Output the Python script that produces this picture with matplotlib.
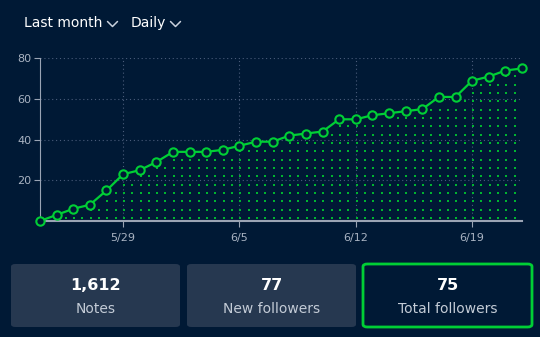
import numpy as np
import matplotlib.pyplot as plt
from matplotlib.patches import FancyBboxPatch
from matplotlib.lines import Line2D

# followers per day, 5/24 .. 6/22
followers = [0, 3, 6, 8, 15, 23, 25, 29, 34, 34,
             34, 35, 37, 39, 39, 42, 43, 44, 50, 50,
             52, 53, 54, 55, 61, 61, 69, 71, 74, 75]
tick_days = [5, 12, 19, 26]
tick_labels = ['5/29', '6/5', '6/12', '6/19']
y_ticks = [20, 40, 60, 80]

card_values = ['1,612', '77', '75']
card_names = ['Notes', 'New followers', 'Total followers']

navy = '#001935'
card_bg = '#263850'
green = '#00cf35'
grey = '#9aa4b4'

W, H = 540, 337
fig = plt.figure(figsize=(W / 100, H / 100), dpi=100, facecolor=navy)
ax = fig.add_axes([40 / W, 1 - 221 / H, (522 - 40) / W, (221 - 58.3) / H])
ax.set_facecolor(navy)

days = np.arange(len(followers))
vals = np.array(followers)

# dotted texture under the line
gx, gy = np.meshgrid(np.arange(0.55, days[-1], 0.5), np.arange(1.5, 80, 4.1))
below = gy < np.interp(gx, days, vals) - 2.5
ax.scatter(gx[below], gy[below], s=1.5, marker='s', color='#00b530', lw=0, zorder=2)

ax.plot(days, vals, color=green, lw=1.6, zorder=3, clip_on=False,
        marker='o', ms=6, mfc=navy, mec=green, mew=1.5)

ax.set_xlim(0, days[-1])
ax.set_ylim(0, 80)
ax.set_xticks(tick_days)
ax.set_xticklabels(tick_labels)
ax.set_yticks(y_ticks)
ax.grid(True, color='#4a5c7a', lw=0.8, linestyle=(0, (1, 2.5)))
ax.set_axisbelow(True)

for s in ['top', 'right']:
    ax.spines[s].set_visible(False)
ax.spines['left'].set_color(grey)
ax.spines['bottom'].set_color(grey)
ax.spines['bottom'].set_linewidth(1.5)
ax.tick_params(axis='y', colors=grey, labelsize=8, length=4, pad=2)
ax.tick_params(axis='x', colors=grey, labelsize=8, length=4, pad=5)
for lbl in ax.get_xticklabels() + ax.get_yticklabels():
    lbl.set_color('#a9b3c2')

# header dropdowns
def fx(px):
    return px / W

def fy(py):
    return 1 - py / H

fig.text(fx(24), fy(23), 'Last month', color='white', fontsize=10, va='center',
         fontweight='medium')
fig.text(fx(131), fy(23), 'Daily', color='white', fontsize=10, va='center',
         fontweight='medium')
for cx in [112.5, 175.5]:
    fig.add_artist(Line2D([fx(cx - 5), fx(cx), fx(cx + 5)], [fy(21.5), fy(26.5), fy(21.5)],
                          color='#c8d0dc', lw=1.1, solid_capstyle='round'))

# summary cards
card_x = [11, 187, 363]
for i, (v, n) in enumerate(zip(card_values, card_names)):
    x0 = card_x[i]
    last = i == len(card_values) - 1
    box = FancyBboxPatch((fx(x0), fy(327)), fx(169), (327 - 264) / H,
                         boxstyle='round,pad=0,rounding_size=0.008',
                         transform=fig.transFigure,
                         facecolor=navy if last else card_bg,
                         edgecolor=green if last else 'none',
                         lw=2 if last else 0)
    fig.add_artist(box)
    fig.text(fx(x0 + 84.5), fy(285), v, color='white', fontsize=11.5,
             fontweight='bold', ha='center', va='center')
    fig.text(fx(x0 + 84.5), fy(309), n, color='#c3cbd6', fontsize=10,
             ha='center', va='center')

fig.savefig('out.png', dpi=100, facecolor=navy)
